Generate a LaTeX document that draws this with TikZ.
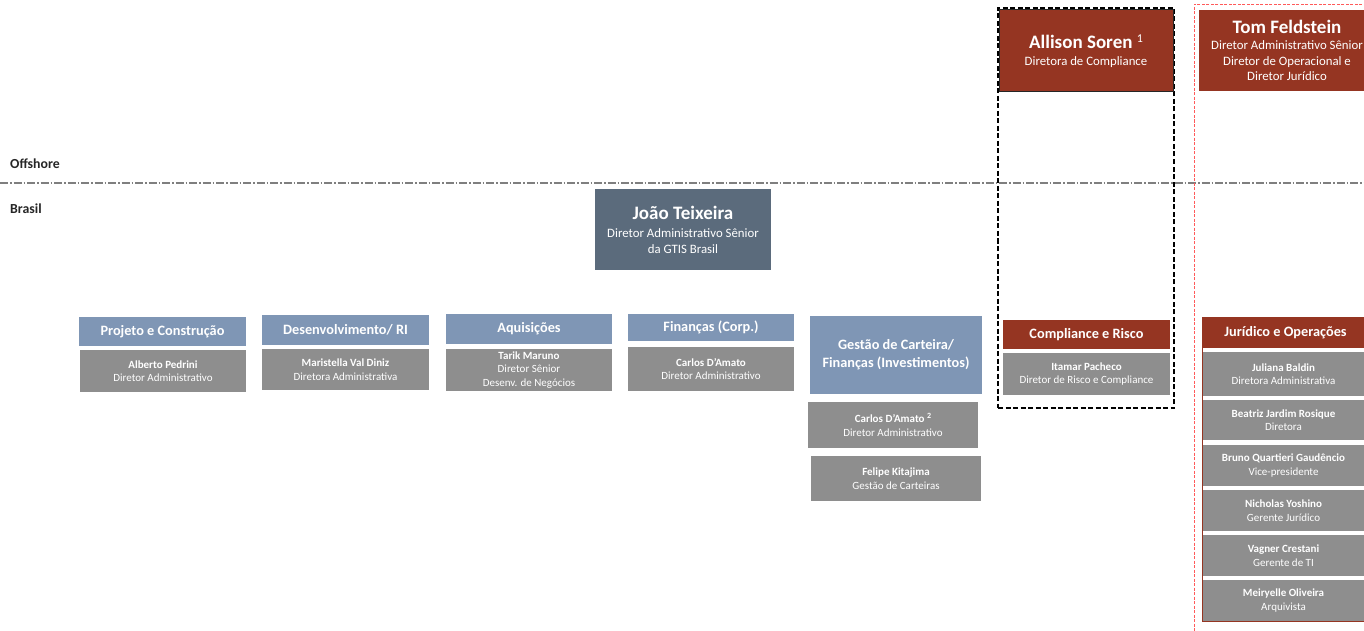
\documentclass[tikz,border=0pt]{standalone}
\usepackage{fontspec}
\setmainfont{Carlito}
\definecolor{slate}{HTML}{5B6B7C}
\definecolor{hblue}{HTML}{7F96B5}
\definecolor{gbox}{HTML}{8E8E8E}
\definecolor{rbox}{HTML}{953522}
\definecolor{dline}{HTML}{7F7F7F}
\definecolor{rdash}{HTML}{FF5A5A}
\begin{document}
\begin{tikzpicture}[x=1pt,y=-1pt,
  box/.style={rectangle, inner sep=0pt, align=center, text=white},
  hdr/.style={box, fill=hblue, font=\fontsize{14.3}{17}\selectfont\bfseries},
  rhdr/.style={box, fill=rbox, font=\fontsize{14.3}{17}\selectfont\bfseries},
  gry/.style={box, fill=gbox, font=\fontsize{11}{13.5}\selectfont},
  boss/.style={box, font=\fontsize{12.8}{15.5}\selectfont},
  lbl/.style={font=\fontsize{13.8}{15}\selectfont\bfseries, text=black!85, anchor=base west, inner sep=0pt},
  divider/.style={draw=dline, line width=1.2pt, dash pattern=on 8pt off 2pt on 1.5pt off 2pt},
  blkdash/.style={draw=black, line width=1.6pt, dash pattern=on 5pt off 2.5pt},
  reddash/.style={draw=rdash, line width=0.9pt, dash pattern=on 3pt off 1.5pt}]
\useasboundingbox (0,0) rectangle (1364,631);
\clip (0,0) rectangle (1364,631);

% region labels and divider
\node[lbl] (off) at (10,169) {Offshore};
\node[lbl] (bra) at (10,213) {Brasil};
\coordinate (l0) at (0,183);
\coordinate (l1) at (1364,183);
\draw[divider] (l0) -- (l1);

% Joao
\node[boss, fill=slate, minimum width=176, minimum height=81] (jt) at (683,229.5)
  {{\fontsize{19}{19}\selectfont\bfseries João Teixeira}\\[3pt]Diretor Administrativo Sênior\\da GTIS Brasil};

% departments
\node[hdr, minimum width=167, minimum height=29] (pc) at (162.5,331.5) {Projeto e Construção};
\node[gry, minimum width=166, minimum height=42] (ap) at (163,371) {\textbf{Alberto Pedrini}\\Diretor Administrativo};

\node[hdr, minimum width=167, minimum height=30] (dri) at (345.5,330) {Desenvolvimento/ RI};
\node[gry, minimum width=167, minimum height=41] (mv) at (345.5,369.5) {\textbf{Maristella Val Diniz}\\Diretora Administrativa};

\node[hdr, minimum width=166, minimum height=30] (aq) at (529,329) {Aquisições};
\node[gry, minimum width=166, minimum height=42] (tm) at (529,370) {\textbf{Tarik Maruno}\\Diretor Sênior\\Desenv. de Negócios};

\node[hdr, minimum width=166, minimum height=27] (fc) at (711,327.5) {Finanças (Corp.)};
\node[gry, minimum width=166, minimum height=44] (cd1) at (711,369) {\textbf{Carlos D’Amato}\\Diretor Administrativo};

\node[hdr, minimum width=172, minimum height=78, font=\fontsize{14.3}{18}\selectfont\bfseries] (gc) at (896,355) {Gestão de Carteira/\\Finanças (Investimentos)};
\node[gry, minimum width=170, minimum height=46] (cd2) at (893,425) {\textbf{Carlos D’Amato \raisebox{4pt}{\fontsize{8}{8}\selectfont 2}}\\Diretor Administrativo};
\node[gry, minimum width=170, minimum height=45] (fk) at (896,478.5) {\textbf{Felipe Kitajima}\\Gestão de Carteiras};

% compliance column
\node[blkdash, minimum width=176, minimum height=400] (cbox) at (1086,208) {};
\node[boss, fill=rbox, draw=black!85, line width=1pt, minimum width=174, minimum height=82] (as) at (1086,51)
  {{\fontsize{19}{19}\selectfont\bfseries Allison Soren \raisebox{6pt}{\fontsize{12}{12}\selectfont\mdseries 1}}\\[1pt]Diretora de Compliance};
\node[rhdr, minimum width=167, minimum height=29] (cr) at (1086.5,334.5) {Compliance e Risco};
\node[gry, minimum width=167, minimum height=42] (ip) at (1086.5,374) {\textbf{Itamar Pacheco}\\Diretor de Risco e Compliance};

% legal / operations column
\node[reddash, minimum width=206, minimum height=656] (rbx) at (1297,332) {};
\node[boss, fill=rbox, minimum width=176, minimum height=81] (tf) at (1287,50.5)
  {{\fontsize{19}{19}\selectfont\bfseries Tom Feldstein}\\[1pt]Diretor Administrativo Sênior\\Diretor de Operacional e\\Diretor Jurídico};
\node[rhdr, minimum width=161, minimum height=30] (jo) at (1283.5,333) {\hspace*{4pt}Jurídico e Operações};
\node[gry, minimum width=161, minimum height=44] (jb) at (1283.5,374) {\textbf{Juliana Baldin}\\Diretora Administrativa};
\node[gry, minimum width=161, minimum height=40] (bj) at (1283.5,420) {\textbf{Beatriz Jardim Rosique}\\Diretora};
\node[gry, minimum width=161, minimum height=41] (bq) at (1283.5,465.5) {\textbf{Bruno Quartieri Gaudêncio}\\Vice-presidente};
\node[gry, minimum width=161, minimum height=41] (ny) at (1283.5,510.5) {\textbf{Nicholas Yoshino}\\Gerente Jurídico};
\node[gry, minimum width=161, minimum height=41] (vc) at (1283.5,555.5) {\textbf{Vagner Crestani}\\Gerente de TI};
\node[gry, minimum width=161, minimum height=41] (mo) at (1283.5,600.5) {\textbf{Meiryelle Oliveira}\\Arquivista};
\draw[rbox, line width=0.8pt] (jo.north west) rectangle (mo.south east);
\end{tikzpicture}
\end{document}
